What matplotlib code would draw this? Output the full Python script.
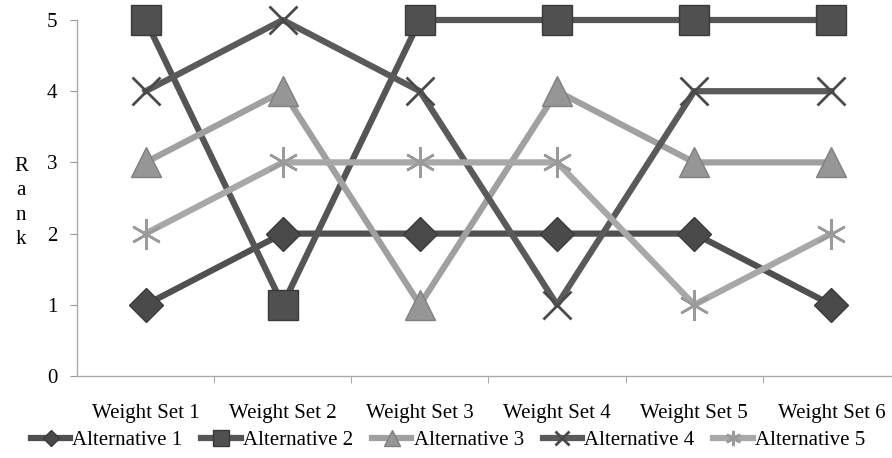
import matplotlib
matplotlib.use("Agg")
import matplotlib.pyplot as plt

# data
weight_sets = ["Weight Set 1", "Weight Set 2", "Weight Set 3",
               "Weight Set 4", "Weight Set 5", "Weight Set 6"]
alt1 = [1, 2, 2, 2, 2, 1]
alt2 = [5, 1, 5, 5, 5, 5]
alt3 = [3, 4, 1, 4, 3, 3]
alt4 = [4, 5, 4, 1, 4, 4]
alt5 = [2, 3, 3, 3, 1, 2]

plt.rcParams['font.family'] = ['Liberation Serif', 'DejaVu Serif']

fig = plt.figure(figsize=(8.92, 4.58), dpi=100)
ax = fig.add_axes([77/892, 82/458, 823/892, 356/458])

x = list(range(len(weight_sets)))
ax.plot(x, alt1, color='#505050', lw=4.5, marker='D', ms=17,
        mfc='#4a4a4a', mec='#3a3a3a', label='Alternative 1', zorder=3, clip_on=False)
ax.plot(x, alt2, color='#555555', lw=4.5, marker='s', ms=22,
        mfc='#505050', mec='#3a3a3a', label='Alternative 2', zorder=3, clip_on=False)
ax.plot(x, alt3, color='#a0a0a0', lw=4.5, marker='^', ms=22,
        mfc='#969696', mec='#808080', label='Alternative 3', zorder=3, clip_on=False)
ax.plot(x, alt4, color='#5a5a5a', lw=4.5, marker='x', ms=20, mew=2,
        mec='#4a4a4a', label='Alternative 4', zorder=3, clip_on=False)
ax.plot(x, alt5, color='#a8a8a8', lw=4.5, marker=(6, 2, 0), ms=22, mew=1.8,
        mec='#9a9a9a', label='Alternative 5', zorder=3, clip_on=False)

ax.set_xlim(-0.5, 5.5)
ax.set_ylim(0, 5)
ax.set_yticks(range(6))
ax.set_xticks(x)
ax.set_xticklabels(weight_sets)
ax.set_xticks([i + 0.5 for i in range(5)], minor=True)
ax.tick_params(axis='x', which='major', length=0, pad=20, labelsize=15)
ax.tick_params(axis='x', which='minor', length=5, color='#999999')
ax.tick_params(axis='y', length=5, color='#999999', labelsize=15, pad=9)

for s in ['top', 'right']:
    ax.spines[s].set_visible(False)
for s in ['left', 'bottom']:
    ax.spines[s].set_color('#aaaaaa')
    ax.spines[s].set_linewidth(1)

fig.text(21/892, 1 - 203/458, "R\na\nn\nk", ha='center', va='center',
         fontsize=15, linespacing=1.4)

leg = fig.legend(loc='center', bbox_to_anchor=(448/892, 1 - 440/458), ncol=5,
                 frameon=False, fontsize=15, handlelength=1.9, columnspacing=0.9,
                 handletextpad=0.1, markerscale=0.5)

fig.savefig("out.png", dpi=100)
